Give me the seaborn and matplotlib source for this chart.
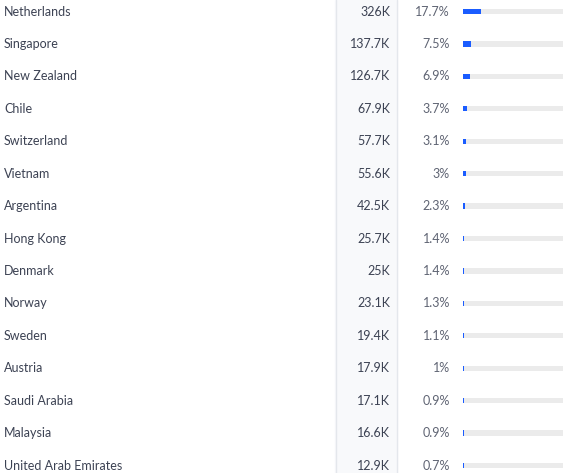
import matplotlib
matplotlib.use("Agg")
import matplotlib.pyplot as plt
import seaborn as sns
import pandas as pd

# data
countries = ["Netherlands", "Singapore", "New Zealand", "Chile", "Switzerland",
             "Vietnam", "Argentina", "Hong Kong", "Denmark", "Norway", "Sweden",
             "Austria", "Saudi Arabia", "Malaysia", "United Arab Emirates"]
value_labels = ["326K", "137.7K", "126.7K", "67.9K", "57.7K", "55.6K", "42.5K",
                "25.7K", "25K", "23.1K", "19.4K", "17.9K", "17.1K", "16.6K", "12.9K"]
shares = [17.7, 7.5, 6.9, 3.7, 3.1, 3.0, 2.3, 1.4, 1.4, 1.3, 1.1, 1.0, 0.9, 0.9, 0.7]

df = pd.DataFrame({"country": countries, "share": shares, "track": 100})

sns.set_theme(style="white")
plt.rcParams["font.family"] = ["Lato", "DejaVu Sans"]

W, H = 568, 473
fig = plt.figure(figsize=(W / 100, H / 100), dpi=100)

row_h = 32.43
y0 = 11.5
ylim = (14 + (H - (y0 + 14 * row_h)) / row_h, -y0 / row_h)

# text layer, x in pixels
ax = fig.add_axes([0, 0, 1, 1])
ax.set_xlim(0, W)
ax.set_ylim(*ylim)
ax.axis("off")

# shaded value column
ax.axvspan(335, 397, color="#f8f9fb", zorder=0)
ax.axvline(335.5, color="#e4e7ec", lw=1, zorder=1)
ax.axvline(396.5, color="#e4e7ec", lw=1, zorder=1)

fs = 9.0
for i, (c, v, s) in enumerate(zip(countries, value_labels, shares)):
    ax.text(4, i, c, ha="left", va="center", fontsize=fs, color="#3c4253")
    ax.text(390, i, v, ha="right", va="center", fontsize=fs, color="#3c4253")
    ax.text(450, i, f"{s:g}%", ha="right", va="center", fontsize=fs, color="#5f6473")

# bar layer
bx = fig.add_axes([463 / W, 0, 102 / W, 1])
sns.barplot(data=df, x="track", y="country", color="#ebebeb", width=0.16,
            saturation=1, linewidth=0, ax=bx, zorder=1)
sns.barplot(data=df, x="share", y="country", color="#1a5cff", width=0.16,
            saturation=1, linewidth=0, ax=bx, zorder=2)
bx.set_xlim(0, 102)
bx.set_ylim(*ylim)
bx.axis("off")
bx.patch.set_alpha(0)

fig.savefig("out.png", dpi=100)
